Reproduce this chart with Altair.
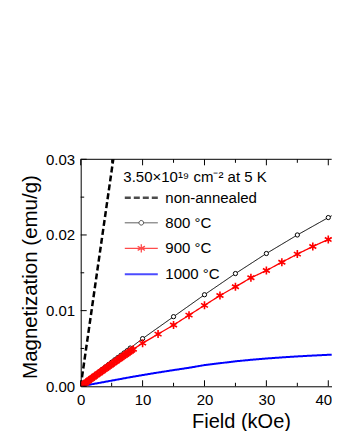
import altair as alt
import pandas as pd

FONT = "Liberation Sans"

series_names = ["non-annealed", "800 °C", "900 °C", "1000 °C"]
series_colors = ["#000000", "#000000", "#ff0000", "#0000ff"]
series_dash = [[6, 3], [1, 0], [1, 0], [1, 0]]
series_width = [2.5, 1, 1.3, 2]
legend_paths = [
    "M-1,0H1",
    "M-1,0H-0.14M0.14,0H1M-0.14,0A0.14,0.14,0,1,0,0.14,0A0.14,0.14,0,1,0,-0.14,0",
    "M-1,0H1M0,-0.25V0.25M-0.22,-0.125L0.22,0.125M-0.22,0.125L0.22,-0.125",
    "M-1,0H1",
]
star_path = "M0,-1L0,1M-0.87,-0.5L0.87,0.5M-0.87,0.5L0.87,-0.5"
legend_title = "3.50×10¹⁹ cm⁻² at 5 K"

# non-annealed
na_field = [0, 1, 2, 3, 4, 5, 6]
na_mag = [0, 0.0057, 0.0114, 0.0171, 0.0228, 0.0285, 0.0342]

# 800 C
f800 = [0, 0.1, 0.2, 0.3, 0.5, 0.75, 1, 1.25, 1.5, 1.75, 2, 2.5, 3, 3.5, 4,
        4.5, 5, 5.5, 6, 6.5, 7, 7.5, 8, 10, 15, 20, 25, 30, 35, 40, 45]
m800 = [0, 0.00006, 0.00013, 0.00019, 0.00032, 0.00048, 0.00064, 0.0008,
        0.00096, 0.00112, 0.00128, 0.0016, 0.00192, 0.00224, 0.00256, 0.00287,
        0.00318, 0.0035, 0.0038, 0.0041, 0.0044, 0.0047, 0.00505, 0.0063,
        0.0092, 0.0121, 0.0149, 0.01755, 0.0200, 0.0223, 0.0245]

# 900 C
f900 = [0, 0.25, 0.5, 0.75, 1, 1.25, 1.5, 1.75, 2, 2.25, 2.5, 2.75, 3, 3.25,
        3.5, 3.75, 4, 4.25, 4.5, 4.75, 5, 5.25, 5.5, 5.75, 6, 6.25, 6.5, 6.75,
        7, 7.25, 7.5, 7.75, 8, 8.25, 8.5, 10, 12.5, 15, 17.5, 20, 22.5, 25,
        27.5, 30, 32.5, 35, 37.5, 40, 42.5]
m900 = [0, 0.00015, 0.0003, 0.00044, 0.00059, 0.00074, 0.00088, 0.00103,
        0.00118, 0.00132, 0.00147, 0.00162, 0.00176, 0.00191, 0.00205, 0.0022,
        0.00234, 0.00249, 0.00263, 0.00278, 0.00292, 0.00306, 0.00321, 0.00335,
        0.00349, 0.00364, 0.00378, 0.00392, 0.00406, 0.0042, 0.00434, 0.00448,
        0.00462, 0.00476, 0.0049, 0.0057, 0.0069, 0.0081, 0.0094, 0.0107,
        0.0120, 0.01315, 0.01434, 0.0153, 0.0164, 0.01747, 0.01848, 0.0194,
        0.0204]

# 1000 C
f1000 = [0, 2, 4, 6, 8, 10, 12.5, 15, 17.5, 20, 22.5, 25, 27.5, 30, 32.5, 35,
         37.5, 40, 42.5]
m1000 = [0, 0.0003, 0.0006, 0.0009, 0.0012, 0.00148, 0.00182, 0.00214,
         0.00245, 0.0028, 0.00305, 0.0033, 0.0035, 0.00367, 0.00382, 0.00395,
         0.00406, 0.00416, 0.0042]

x_major = [0, 10, 20, 30, 40]
x_minor = [5, 15, 25, 35]
y_major = [0, 0.01, 0.02, 0.03]
y_minor = [0.005, 0.015, 0.025]

rows = []
for name, fs, ms in zip(series_names, [na_field, f800, f900, f1000],
                        [na_mag, m800, m900, m1000]):
    for f, m in zip(fs, ms):
        rows.append({"series": name, "H": f, "M": m})
df = pd.DataFrame(rows)

W, H = 251, 227
XMAX = 40.55

x_scale = alt.Scale(domain=[0, XMAX], nice=False, zero=False)
y_scale = alt.Scale(domain=[0, 0.03], nice=False)

x_axis = alt.Axis(values=x_major, ticks=False, format="d", labelFontSize=15,
                  labelPadding=6, domainColor="black", labelColor="black",
                  labelAlign={"condition": {"test": "datum.value >= 40",
                                            "value": "right"},
                              "value": "center"},
                  labelOffset={"condition": {"test": "datum.value >= 40",
                                             "value": 3.3},
                               "value": 0},
                  title="Field (kOe)", titleFontSize=20, titleFontWeight="normal",
                  titleX=160.3, titleY=41, titleBaseline="alphabetic",
                  titleAlign="center", titleColor="black", grid=False,
                  labelFont=FONT, titleFont=FONT, domainWidth=1)
y_axis = alt.Axis(values=y_major, ticks=False, format=".2f", labelFontSize=15,
                  labelPadding=6, domainColor="black", labelColor="black",
                  title="Magnetization (emu/g)", titleFontSize=20.5,
                  titleFontWeight="normal", titleX=-43.7, titleY=117.2,
                  titleAngle=270, titleBaseline="alphabetic", titleAlign="center",
                  titleColor="black", grid=False, labelFont=FONT, titleFont=FONT,
                  domainWidth=1)


def X(field="H"):
    return alt.X(f"{field}:Q", scale=x_scale, axis=x_axis)


def Y(field="M"):
    return alt.Y(f"{field}:Q", scale=y_scale, axis=y_axis)


color_scale = alt.Scale(domain=series_names, range=series_colors)
dash_scale = alt.Scale(domain=series_names, range=series_dash)
width_scale = alt.Scale(type="ordinal", domain=series_names, range=series_width)
shape_scale = alt.Scale(domain=series_names, range=legend_paths)

leg = alt.Legend(title=legend_title, orient="none", legendX=42.6, legendY=11.2,
                 symbolSize=1089, labelFontSize=15, titleFontSize=15,
                 titleFontWeight="normal", labelFont=FONT, titleFont=FONT,
                 labelOffset=6, padding=0, titlePadding=-5.7, rowPadding=-8.2,
                 labelColor="black", titleColor="black")

base = alt.Chart(df)

layers = []
# one line layer per series, styled by value
for name, col, dash, wid in zip(series_names, series_colors, series_dash,
                                series_width):
    layers.append(
        base.transform_filter(alt.datum.series == name)
        .mark_line(clip=True, color=col, strokeDash=dash, strokeWidth=wid)
        .encode(x=X(), y=Y())
    )

layers.append(
    base.transform_filter(alt.datum.series == "800 °C").mark_point(
        shape="circle", filled=True, fill="white", stroke="black",
        strokeWidth=1, size=18, opacity=1, clip=True
    ).encode(x=X(), y=Y())
)
layers.append(
    base.transform_filter(alt.datum.series == "900 °C").mark_point(
        shape=star_path, filled=False, stroke="#ff0000", strokeWidth=1.6,
        size=64, opacity=1, clip=True
    ).encode(x=X(), y=Y())
)

# legend-only layer (no rows drawn; legend comes from the scales)
layers.append(
    base.transform_filter(alt.datum.H < 0).mark_point(filled=False).encode(
        x=X(), y=Y(),
        color=alt.Color("series:N", scale=color_scale, legend=leg),
        shape=alt.Shape("series:N", scale=shape_scale, legend=leg),
        strokeDash=alt.StrokeDash("series:N", scale=dash_scale, legend=leg),
        strokeWidth=alt.StrokeWidth("series:N", scale=width_scale, legend=leg),
    )
)


def xticks(vals, length):
    d = pd.DataFrame({"v": vals})
    bot = alt.Chart(d).mark_rule(color="black", strokeWidth=1).encode(
        x=X("v"), y=alt.value(H), y2=alt.value(H - length))
    top = alt.Chart(d).mark_rule(color="black", strokeWidth=1).encode(
        x=X("v"), y=alt.value(0), y2=alt.value(length))
    return [bot, top]


def yticks(vals, length):
    d = pd.DataFrame({"v": vals})
    return [alt.Chart(d).mark_rule(color="black", strokeWidth=1).encode(
        y=Y("v"), x=alt.value(0), x2=alt.value(length))]


top_line = alt.Chart(pd.DataFrame({"a": [0], "b": [XMAX]})).mark_rule(
    color="black", strokeWidth=1).encode(x=X("a"), x2="b:Q", y=alt.value(0))

layers.append(top_line)
layers += xticks(x_major, 6) + xticks(x_minor, 3.5)
layers += yticks(y_major, 6) + yticks(y_minor, 3.5)

chart = alt.layer(*layers).properties(
    width=W, height=H,
    autosize=alt.AutoSizeParams(type="none"),
    padding={"left": 72.7, "top": 151.3, "right": 0, "bottom": 45},
).configure(font=FONT).configure_view(stroke=None)

chart.save("out.html", embed_options={"renderer": "svg", "actions": False})
